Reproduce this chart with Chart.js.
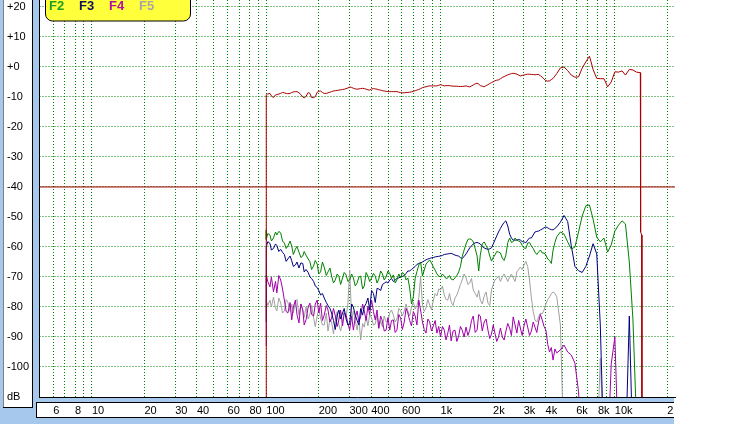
<!DOCTYPE html>
<html><head><meta charset="utf-8">
<script src="https://cdn.jsdelivr.net/npm/chart.js@4.4.1/dist/chart.umd.min.js"></script>
<style>html,body{margin:0;padding:0;background:#fff;overflow:hidden}canvas{display:block}</style>
</head><body>
<canvas id="c" width="738" height="424"></canvas>
<script>
// ---- data (frequency in Hz, level in dB) ----
const freqs = [100,
  100, 102, 105, 107, 110, 113, 115, 118, 121, 124, 127, 130,
  133, 137, 140, 143, 147, 150, 154, 158, 162, 165, 169, 174,
  178, 182, 187, 191, 196, 200, 205, 210, 215, 221, 226, 232,
  237, 243, 249, 255, 261, 267, 274, 280, 287, 294, 301, 309,
  316, 324, 332, 340, 348, 357, 365, 374, 383, 392, 402, 412,
  422, 432, 442, 453, 464, 475, 487, 499, 511, 523, 536, 549,
  562, 576, 590, 604, 619, 634, 649, 665, 681, 698, 715, 732,
  750, 768, 787, 806, 825, 845, 866, 887, 909, 931, 953, 976,
  1000, 1025, 1050, 1075, 1100, 1125, 1150, 1180, 1210, 1240, 1270, 1300,
  1330, 1365, 1400, 1435, 1470, 1505, 1540, 1580, 1620, 1655, 1690, 1735,
  1780, 1825, 1870, 1915, 1960, 2005, 2050, 2100, 2150, 2205, 2260, 2315,
  2370, 2430, 2490, 2550, 2610, 2675, 2740, 2805, 2870, 2940, 3010, 3085,
  3160, 3240, 3320, 3400, 3480, 3565, 3650, 3740, 3830, 3925, 4020, 4120,
  4220, 4320, 4420, 4530,
  4640, 4870, 5110, 5360, 5620, 5900, 6190, 6490, 6810, 7150,
  7500, 7870, 8250, 8660, 9090, 9530, 10000, 10500, 11000, 11500,
  12100, 12700, 13300, 14000,
  14050, 14250, 14300];

const F1 = [-130,
  -9.3, -9.0, -8.8, -9.6, -10.2, -9.3, -9.2, -9.0, -8.8, -8.5, -8.6, -8.8,
  -8.9, -8.8, -8.5, -8.3, -8.2, -8.2, -8.6, -9.2, -10.0, -10.3, -9.8, -8.5,
  -8.8, -10.2, -10.2, -9.9, -8.4, -8.1, -8.0, -8.5, -8.8, -8.8, -8.6, -8.4,
  -8.2, -8.0, -7.9, -7.8, -7.7, -7.6, -7.5, -7.4, -7.2, -7.0, -6.7, -6.8,
  -7.1, -7.3, -7.4, -7.3, -7.2, -7.1, -7.2, -7.4, -7.6, -7.7, -7.3, -7.2,
  -7.3, -7.4, -7.6, -7.7, -7.9, -8.0, -8.1, -8.2, -8.2, -8.2, -8.2, -8.2,
  -8.2, -8.4, -8.5, -8.6, -8.6, -8.5, -8.5, -8.4, -8.3, -8.1, -7.9, -7.7,
  -7.5, -7.2, -6.9, -6.7, -6.6, -6.4, -6.3, -6.3, -6.3, -6.3, -6.3, -6.1,
  -5.9, -6.1, -6.3, -6.2, -6.2, -6.2, -6.3, -6.4, -6.4, -6.4, -6.5, -6.5,
  -6.5, -6.4, -6.3, -6.5, -6.6, -6.3, -6.0, -5.6, -5.4, -5.7, -6.2, -6.4,
  -6.6, -6.2, -5.9, -5.5, -5.2, -4.9, -4.6, -4.4, -4.3, -3.9, -3.5, -3.2,
  -2.9, -2.6, -2.4, -2.2, -2.1, -2.2, -2.4, -2.7, -3.0, -2.8, -2.7, -2.5,
  -2.4, -2.4, -2.5, -2.5, -2.6, -2.5, -2.5, -2.9, -3.4, -4.0, -4.6, -4.7,
  -4.6, -4.2, -3.8, -3.0,
  -2.2, -0.3, 0.0, -1.2, -2.7, -3.4, -3.3, -0.4, 1.7, 3.6,
  -0.8, -3.8, -3.9, -3.9, -6.6, -5.0, -1.6, -1.7, -1.3, -2.7,
  -0.8, -1.0, -1.7, -1.9,
  -55, -56, -130];

const F2 = [-54.3,
  -57.5, -55.5, -56.0, -58.0, -57.0, -55.0, -56.0, -54.8, -55.3, -58.0, -58.7, -60.5,
  -59.7, -58.0, -59.7, -62.5, -60.7, -59.8, -61.7, -63.5, -63.0, -61.5, -62.7, -64.0,
  -64.9, -67.5, -66.3, -64.5, -65.7, -69.0, -68.3, -65.0, -66.7, -69.5, -68.3, -67.0,
  -69.7, -72.0, -71.0, -69.0, -69.7, -72.5, -70.3, -68.5, -69.3, -71.5, -71.0, -69.0,
  -70.3, -73.0, -72.0, -70.0, -69.7, -74.0, -73.0, -68.5, -69.7, -71.5, -70.3, -68.8,
  -69.7, -72.0, -70.7, -68.0, -69.0, -71.0, -70.0, -68.0, -68.8, -70.5, -69.3, -72.0,
  -71.0, -69.0, -70.3, -68.5, -69.0, -71.0, -70.3, -73.7, -79.0, -76.6, -70.4, -68.2,
  -66.0, -65.0, -69.7, -67.7, -65.7, -65.0, -64.3, -65.3, -66.7, -67.7, -69.0, -69.7,
  -70.0, -69.0, -69.7, -70.5, -70.3, -69.5, -70.7, -71.0, -70.3, -69.5, -68.3, -66.5,
  -63.3, -61.0, -59.0, -57.5, -57.3, -57.5, -58.3, -60.5, -63.0, -68.0, -62.7, -59.0,
  -58.3, -59.5, -60.7, -63.0, -64.7, -63.5, -62.7, -61.5, -61.7, -62.0, -63.7, -64.5,
  -62.7, -58.5, -57.0, -58.5, -58.2, -57.0, -57.7, -58.0, -58.3, -59.5, -60.3, -60.5,
  -58.7, -58.5, -59.7, -60.5, -61.7, -62.5, -61.7, -61.0, -62.0, -62.0, -62.7, -64.0,
  -64.5, -65.5, -61.0, -58.5,
  -56.6, -55.0, -55.7, -58.3, -60.7, -60.0, -55.0, -49.7, -46.3, -46.0,
  -50.7, -56.7, -58.3, -57.0, -61.7, -59.3, -54.7, -52.7, -51.3, -52.3,
  -65.0, -84.3, -118, -130,
  -130, -130, -130];

const F3 = [-85,
  -60.0, -58.2, -58.8, -61.0, -60.5, -59.0, -59.5, -61.5, -60.8, -61.8, -62.5, -64.8,
  -64.0, -63.0, -64.6, -66.5, -66.0, -65.0, -67.0, -65.3, -65.5, -68.3, -67.5, -68.5,
  -70.0, -70.5, -71.5, -73.0, -73.5, -74.5, -76.0, -75.5, -77.0, -78.5, -79.5, -80.5,
  -82.0, -84.5, -87.5, -83.0, -81.0, -84.0, -82.0, -80.5, -84.0, -86.0, -85.5, -79.0,
  -80.0, -82.7, -84.5, -86.0, -80.5, -82.7, -80.0, -78.8, -77.0, -81.0, -74.5, -75.5,
  -78.5, -73.8, -74.0, -74.5, -72.5, -72.1, -71.6, -72.0, -71.0, -70.5, -71.5, -71.0,
  -70.5, -70.3, -70.0, -69.8, -69.5, -68.8, -68.0, -68.0, -67.5, -67.0, -66.5, -65.8,
  -65.5, -65.3, -65.0, -64.6, -64.3, -64.0, -63.8, -63.6, -63.5, -63.3, -63.2, -63.1,
  -63.0, -62.8, -62.5, -62.4, -62.3, -62.2, -62.1, -62.4, -62.7, -62.9, -63.0, -63.6,
  -63.8, -63.2, -62.3, -61.3, -60.3, -59.6, -59.0, -58.6, -58.5, -58.7, -59.0, -59.8,
  -60.3, -60.6, -60.8, -60.6, -60.3, -59.0, -57.7, -56.3, -55.0, -53.8, -52.7, -51.8,
  -51.3, -53.0, -55.7, -57.0, -57.7, -57.7, -57.7, -57.5, -57.7, -58.2, -58.3, -58.6,
  -57.7, -57.0, -57.0, -56.0, -55.0, -54.8, -54.7, -54.3, -54.0, -53.6, -53.3, -53.6,
  -54.0, -54.2, -54.3, -53.8,
  -53.3, -51.7, -49.5, -51.5, -59.5, -66.5, -67.9, -68.5, -66.5, -63.0,
  -58.9, -62.3, -86.0, -130, -130, -130, -130, -130, -130, -130,
  -83, -130, -130, -130,
  -130, -130, -130];

const F4 = [-93,
  -69.3, -71.5, -73.3, -70.0, -74.9, -71.5, -75.3, -69.5, -71.0, -74.0, -77.7, -81.5,
  -82.0, -78.5, -84.3, -80.0, -77.7, -82.5, -85.3, -79.0, -81.0, -86.0, -84.3, -80.0,
  -78.7, -82.5, -83.0, -79.0, -77.7, -82.0, -78.7, -84.5, -82.7, -79.5, -81.0, -85.0,
  -83.7, -80.5, -83.0, -86.5, -84.3, -81.0, -86.3, -82.0, -82.7, -85.5, -87.7, -83.0,
  -87.7, -83.5, -81.3, -85.0, -83.3, -79.0, -81.3, -84.5, -79.7, -82.5, -77.7, -81.5,
  -84.3, -81.0, -87.0, -83.0, -84.7, -88.0, -87.7, -83.5, -87.7, -84.5, -84.3, -88.5,
  -87.7, -82.5, -83.7, -87.5, -85.0, -80.5, -82.0, -84.5, -86.3, -81.5, -83.0, -86.0,
  -77.7, -81.0, -85.0, -87.5, -88.7, -84.0, -85.0, -88.0, -86.3, -84.5, -88.7, -86.5,
  -90.0, -86.5, -87.7, -91.0, -88.7, -86.0, -91.3, -88.0, -87.7, -91.5, -89.7, -86.5,
  -87.7, -90.0, -86.7, -89.5, -87.7, -84.5, -83.0, -88.5, -87.7, -82.5, -83.0, -88.0,
  -85.0, -84.0, -87.7, -90.5, -89.0, -86.0, -88.7, -91.5, -90.0, -87.0, -90.0, -91.0,
  -88.0, -85.5, -87.0, -89.5, -83.3, -86.0, -88.7, -84.5, -87.0, -89.5, -86.3, -84.0,
  -86.7, -89.5, -88.0, -85.0, -86.7, -88.5, -85.0, -82.5, -84.3, -86.5, -87.7, -92.5,
  -95.0, -93.5, -97.7, -94.0,
  -95.3, -94.3, -92.7, -95.0, -96.0, -98.7, -108.3, -130, -130, -130,
  -130, -130, -130, -130, -130, -99, -90, -130, -130, -130,
  -130, -130, -130, -130,
  -130, -130, -130];

const F5 = [-78,
  -77.7, -79.5, -77.7, -80.0, -76.7, -80.5, -81.3, -77.0, -78.7, -82.0, -81.3, -77.5,
  -78.3, -81.5, -79.0, -82.0, -78.3, -77.5, -82.7, -79.0, -81.0, -83.5, -80.0, -84.0,
  -82.3, -79.5, -83.7, -86.5, -83.0, -80.5, -83.7, -86.0, -86.0, -82.0, -88.0, -84.0,
  -85.0, -89.0, -84.3, -81.5, -86.0, -88.0, -85.0, -81.5, -83.3, -79.0, -67.7, -84.3,
  -81.3, -84.5, -87.7, -84.0, -91.0, -85.5, -86.7, -83.0, -86.3, -82.5, -83.7, -86.0,
  -85.7, -82.5, -87.3, -84.5, -86.7, -83.0, -85.0, -84.5, -82.0, -81.0, -82.7, -85.0,
  -84.0, -80.5, -81.3, -83.0, -81.3, -79.0, -81.3, -83.0, -80.0, -78.5, -80.7, -79.5,
  -77.0, -70.0, -79.3, -81.5, -80.3, -77.5, -79.3, -81.0, -77.7, -75.5, -76.3, -74.0,
  -74.3, -73.0, -76.0, -77.5, -77.7, -75.5, -78.3, -79.5, -77.0, -76.0, -74.3, -72.5,
  -71.0, -69.0, -70.3, -72.5, -72.0, -70.5, -74.3, -75.5, -76.7, -74.5, -77.7, -79.0,
  -76.3, -75.0, -78.7, -79.5, -74.3, -72.5, -71.0, -70.5, -69.7, -71.5, -70.0, -69.0,
  -70.0, -71.5, -70.0, -69.0, -70.3, -71.5, -68.3, -67.5, -66.7, -67.5, -66.0, -64.8,
  -66.5, -71.0, -77.0, -81.5, -84.3, -85.0, -83.3, -82.0, -82.3, -81.0, -79.0, -77.5,
  -76.7, -75.5, -75.0, -75.5,
  -76.6, -86.0, -130, -130, -130, -130, -130, -130, -130, -130,
  -130, -130, -97, -130, -130, -130, -130, -130, -130, -130,
  -130, -130, -130, -130,
  -130, -130, -130];

const refLevel = -40;
const xRange = [5, 22130];
const yRange = [-110, 22.333];

const xGrid = [6, 7, 8, 9, 10, 20, 30, 40, 50, 60, 70, 80, 90, 100, 200, 300, 400, 500, 600, 700, 800, 900,
  1000, 2000, 3000, 4000, 5000, 6000, 7000, 8000, 9000, 10000, 20000];
const xLabels = {6: '6', 8: '8', 10: '10', 20: '20', 30: '30', 40: '40', 60: '60', 80: '80', 100: '100', 200: '200', 300: '300',
  400: '400', 600: '600', 1000: '1k', 2000: '2k', 3000: '3k', 4000: '4k', 6000: '6k', 8000: '8k', 10000: '10k', 20000: '20k'};
const yTicks = [20, 10, 0, -10, -20, -30, -40, -50, -60, -70, -80, -90, -100, -110];
const yLabels = ['+20', '+10', '+0', '-10', '-20', '-30', '-40', '-50', '-60', '-70', '-80', '-90', '-100', 'dB'];
const legendNames = ['F2', 'F3', 'F4', 'F5'];

// ---- styles ----
const colF1 = '#A80000', colF2 = '#008000', colF3 = '#000080', colF4 = '#A000A8', colF5 = '#A0A0A0';
const legendColors = ['#1E9E1E', '#101060', '#B0109F', '#A8A8A0'];
const gridColor = '#008000';
const frameBlue = '#A6C8EC';
const fontFam = '"Liberation Sans", Arial, sans-serif';

const mk = arr => freqs.map((f, i) => ({x: f, y: arr[i]}));
const ds = (label, arr, color) => ({label, data: mk(arr), borderColor: color, borderWidth: 1, showLine: true, pointRadius: 0, tension: 0, fill: false});

const framePlugin = {
  id: 'frame',
  beforeDraw(chart) {
    const ctx = chart.ctx;
    const ca = chart.chartArea;
    const r = Math.round(ca.right);
    ctx.save();
    ctx.fillStyle = '#fff';
    ctx.fillRect(0, 0, chart.width, chart.height);
    ctx.fillStyle = frameBlue;
    ctx.fillRect(0, 0, Math.floor(ca.left), chart.height);
    ctx.fillRect(0, Math.floor(ca.bottom), r, chart.height - Math.floor(ca.bottom));
    ctx.fillStyle = '#fff';
    ctx.fillRect(3, 0, 30, 408);
    ctx.fillStyle = '#000';
    ctx.fillRect(32, 0, 1, 408);
    ctx.fillRect(3, 407, 30, 1);
    ctx.fillStyle = '#808080';
    ctx.fillRect(3, 0, 1, 407);
    ctx.fillStyle = '#fff';
    ctx.fillRect(36, 402, r - 37, 16);
    ctx.fillStyle = '#000';
    ctx.fillRect(36, 402, r - 37, 1);
    ctx.fillRect(36, 417, r - 37, 1);
    ctx.fillRect(36, 402, 1, 16);
    ctx.restore();
  },
  beforeDatasetsDraw(chart) {
    // dotted grid at the scales' tick positions
    const {ctx, chartArea: ca, scales} = chart;
    ctx.save();
    ctx.beginPath();
    ctx.rect(ca.left, ca.top, ca.right - ca.left, ca.bottom - ca.top);
    ctx.clip();
    ctx.strokeStyle = gridColor;
    ctx.lineWidth = 1;
    ctx.setLineDash([1, 2]);
    xGrid.forEach(v => {
      const px = Math.round(scales.x.getPixelForValue(v) - 0.5) + 0.5;
      ctx.beginPath(); ctx.moveTo(px, ca.top); ctx.lineTo(px, ca.bottom); ctx.stroke();
    });
    yTicks.forEach(v => {
      if (v === yRange[0]) return;
      const py = Math.round(scales.y.getPixelForValue(v) - 0.5) + 0.5;
      ctx.beginPath(); ctx.moveTo(ca.left, py); ctx.lineTo(ca.right, py); ctx.stroke();
    });
    ctx.restore();
  },
  afterDraw(chart) {
    const ctx = chart.ctx;
    const ca = chart.chartArea;
    ctx.save();
    ctx.fillStyle = '#fff';
    ctx.fillRect(Math.round(ca.right) - 1, Math.ceil(ca.bottom) + 1, chart.width, chart.height);
    ctx.beginPath();
    ctx.roundRect(45.5, -12, 145, 33, 7);
    ctx.fillStyle = '#FFFF3C';
    ctx.fill();
    ctx.lineWidth = 1;
    ctx.strokeStyle = '#000';
    ctx.stroke();
    ctx.font = 'bold 13px ' + fontFam;
    ctx.textBaseline = 'alphabetic';
    legendNames.forEach((n, i) => {
      ctx.fillStyle = legendColors[i];
      ctx.fillText(n, 49 + i * 30, 10);
    });
    ctx.restore();
  }
};

new Chart(document.getElementById('c'), {
  type: 'scatter',
  data: {
    datasets: [
      ds('F1', F1, colF1),
      {label: 'ref', data: [{x: xRange[0], y: refLevel}, {x: xRange[1], y: refLevel}], borderColor: colF1, borderWidth: 1, showLine: true, pointRadius: 0},
      ds('F2', F2, colF2),
      ds('F3', F3, colF3),
      ds('F4', F4, colF4),
      ds('F5', F5, colF5)
    ]
  },
  options: {
    responsive: false,
    animation: false,
    events: [],
    devicePixelRatio: 1,
    layout: {padding: {left: 7, right: 63, top: 0, bottom: 0}},
    plugins: {legend: {display: false}, tooltip: {enabled: false}},
    scales: {
      x: {
        type: 'logarithmic', min: xRange[0], max: xRange[1],
        afterBuildTicks: s => { s.ticks = xGrid.map(v => ({value: v})); },
        afterFit: s => { s.height = 27; s.paddingLeft = 0; s.paddingRight = 0; s.paddingTop = 0; s.paddingBottom = 0; },
        grid: {display: false, drawTicks: false},
        border: {display: true, color: '#000', width: 1},
        ticks: {autoSkip: false, maxRotation: 0, minRotation: 0, align: 'start', padding: 7, color: '#000',
          font: {family: fontFam, size: 11}, callback: v => xLabels[v] || ''}
      },
      y: {
        type: 'linear', min: yRange[0], max: yRange[1],
        afterBuildTicks: s => { s.ticks = yTicks.map(v => ({value: v})); },
        afterFit: s => { s.width = 32.5; s.paddingTop = 0; s.paddingBottom = 0; s.paddingLeft = 0; s.paddingRight = 0; },
        grid: {display: false, drawTicks: false},
        border: {display: true, color: '#000', width: 1},
        ticks: {autoSkip: false, crossAlign: 'far', padding: 0, color: '#000',
          font: {family: fontFam, size: 11}, callback: v => yLabels[yTicks.indexOf(v)]}
      }
    }
  },
  plugins: [framePlugin]
});
</script>
</body></html>
